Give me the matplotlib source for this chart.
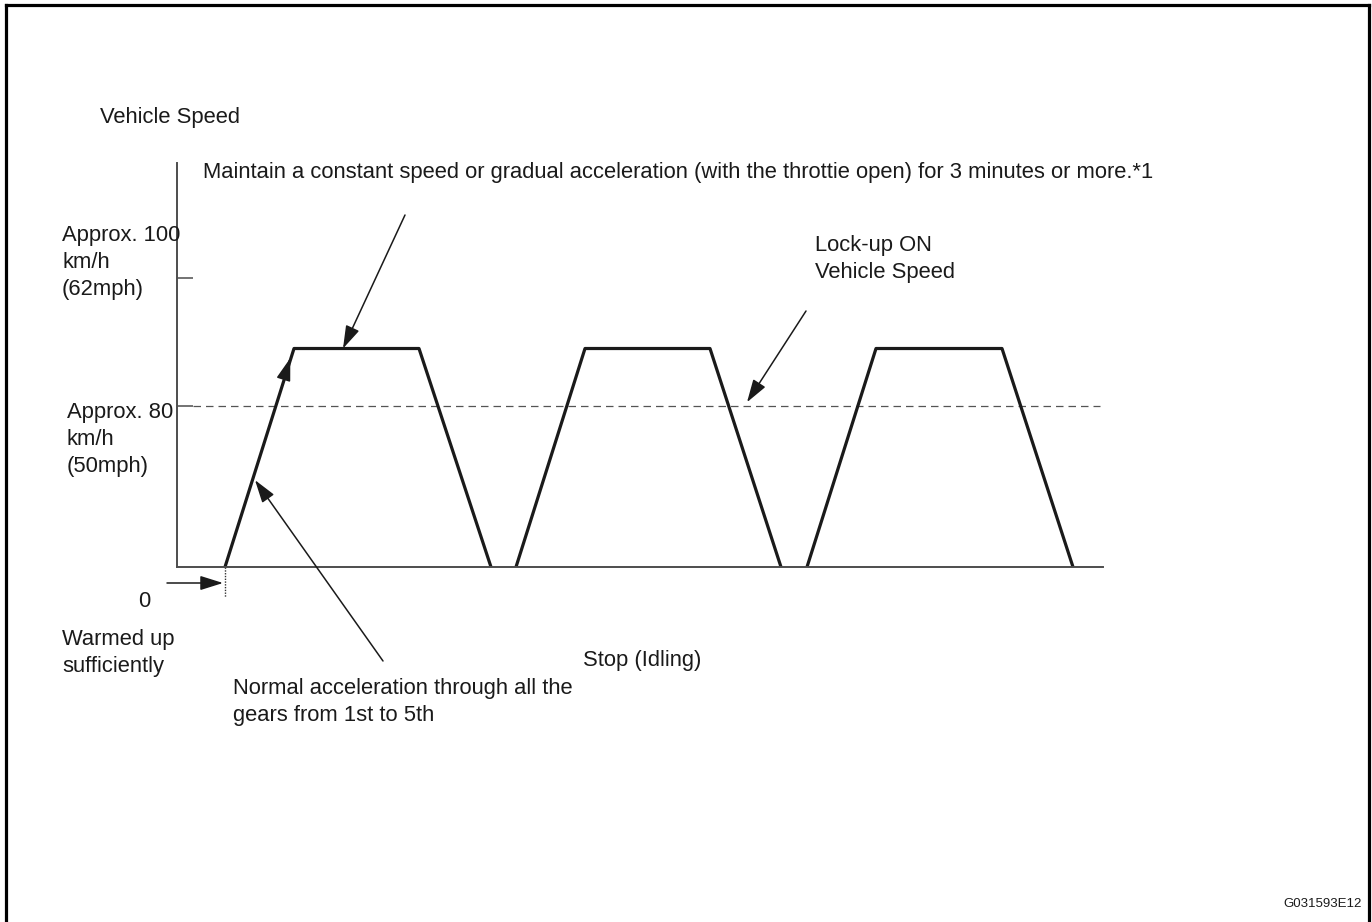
import numpy as np
import matplotlib
matplotlib.use("Agg")
import matplotlib.pyplot as plt
from matplotlib.lines import Line2D

plt.rcParams['font.family'] = ['Liberation Sans', 'DejaVu Sans']

W, H = 1372, 922

# speed pattern: three accelerate / cruise / decelerate cycles
# (time in arbitrary units, speed in km/h, schematic)
cycle_times = [
    [4.8, 11.7, 24.2, 31.4],
    [33.9, 40.8, 53.3, 60.4],
    [63.0, 69.9, 82.5, 89.6],
]
cycle_speeds = [0, 89, 89, 0]
lockup_speed = 80
speed_ticks = [80, 100]
t_end = 92.6
v_top = 118

# the drawing is not to scale: 0-80 is squeezed, 80-100 is stretched
ref_speed = [-100, 0, 80, 100, 200]
ref_pos = [-201.25, 0, 161, 289, 929]


def fwd(v):
    return np.interp(v, ref_speed, ref_pos)


def inv(p):
    return np.interp(p, ref_pos, ref_speed)


def fp(x, y):
    # image pixel (top-left origin) -> figure pixels
    return (x, H - y)


def ftext(x, y, s, **kw):
    fig.text(x / W, 1 - y / H, s, va='top', ha=kw.pop('ha', 'left'),
             fontsize=kw.pop('fontsize', 15.8), color='#1a1a1a',
             linespacing=kw.pop('linespacing', 1.36), **kw)


fig = plt.figure(figsize=(W / 100, H / 100), dpi=100)
ax = fig.add_axes([177 / W, (H - 567) / H, (1103 - 177) / W, (567 - 163) / H])
ax.set_yscale('function', functions=(fwd, inv))
ax.set_xlim(0, t_end)
ax.set_ylim(0, v_top)

axis_col = '#4d4d4d'
for s in ['top', 'right']:
    ax.spines[s].set_visible(False)
for s in ['left', 'bottom']:
    ax.spines[s].set_color(axis_col)
    ax.spines[s].set_linewidth(1.4)
ax.set_xticks([])
ax.set_yticks(speed_ticks)
ax.set_yticklabels([])
ax.yaxis.set_minor_locator(matplotlib.ticker.NullLocator())
ax.tick_params(axis='y', direction='in', length=11.5, width=1.1, color=axis_col)

# lock-up line
ax.axhline(lockup_speed, xmin=16 / 926, xmax=923 / 926, color='#555555',
           lw=0.9, ls=(0, (6, 4)))

for t in cycle_times:
    ax.plot(t, cycle_speeds, color='#1a1a1a', lw=2.3, solid_joinstyle='round',
            solid_capstyle='round')

# start marker below axis
t0 = cycle_times[0][0]
ax.plot([t0, t0], [0, -15], color='#333333', lw=1, ls=(0, (1, 1)), clip_on=False)

aprops = dict(arrowstyle='-|>,head_length=0.7,head_width=0.22', lw=1.1,
              color='#1a1a1a', shrinkA=0, shrinkB=0, mutation_scale=20)

ax.annotate('', xy=(16.6, 89), xytext=fp(405, 215), textcoords='figure pixels',
            arrowprops=aprops)
ax.annotate('', xy=(7.8, 43.2), xytext=fp(383, 661), textcoords='figure pixels',
            arrowprops=aprops)
ax.annotate('', xy=(11.33, 87.5), xytext=(10.7, 84.4), arrowprops=aprops)
ax.annotate('', xy=(32.6, -1), xytext=fp(587, 637), textcoords='figure pixels',
            arrowprops=aprops)
ax.annotate('', xy=(57.0, 80.6), xytext=fp(806, 311), textcoords='figure pixels',
            arrowprops=aprops)
ax.annotate('', xy=(t0 - 0.2, H - 583), xycoords=('data', 'figure pixels'),
            xytext=fp(167, 583), textcoords='figure pixels', arrowprops=aprops)

# texts
ftext(100, 107, 'Vehicle Speed')
ftext(203, 162, 'Maintain a constant speed or gradual acceleration '
      '(with the throttie open) for 3 minutes or more.*1')
ftext(62, 225, 'Approx. 100\nkm/h\n(62mph)')
ftext(67, 402, 'Approx. 80\nkm/h\n(50mph)')
ftext(815, 235, 'Lock-up ON\nVehicle Speed')
ftext(138, 591, '0')
ftext(62, 629, 'Warmed up\nsufficiently')
ftext(233, 678, 'Normal acceleration through all the\ngears from 1st to 5th')
ftext(583, 650, 'Stop (Idling)')
ftext(1362, 898, 'G031593E12', ha='right', fontsize=9.5)

# page frame (open at the bottom)
for xs, ys in [([6, 6], [H, 5]), ([6, 1369], [5, 5]), ([1369, 1369], [5, H])]:
    fig.add_artist(Line2D([x / W for x in xs], [1 - y / H for y in ys],
                          transform=fig.transFigure, color='black', lw=2.3))

fig.savefig('out.png', dpi=100)
